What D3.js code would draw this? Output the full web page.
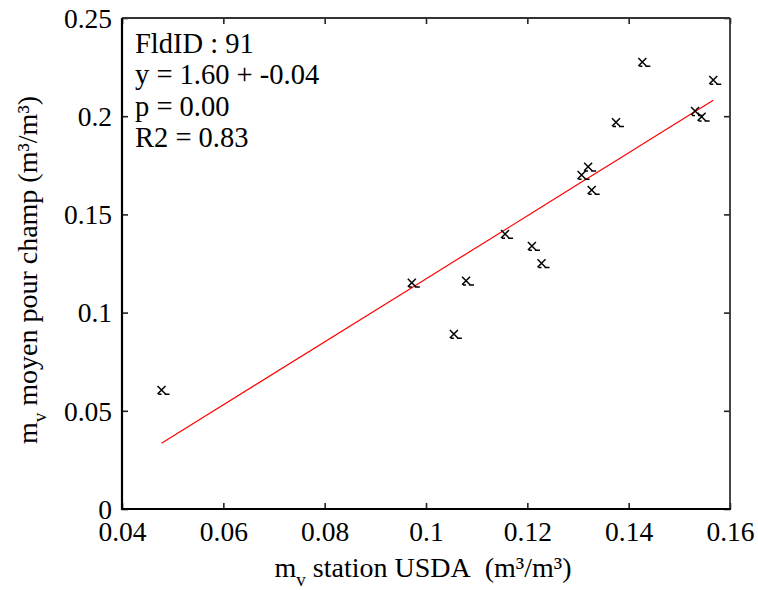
<!DOCTYPE html>
<html>
<head>
<meta charset="utf-8">
<script src="https://cdn.jsdelivr.net/npm/d3@7"></script>
<style>
  html, body { margin: 0; padding: 0; background: #fff; }
</style>
</head>
<body>
<svg id="chart" width="758" height="590"></svg>
<script>
// Field-averaged soil moisture vs USDA station soil moisture
const stationMv = [0.0478, 0.0972, 0.1055, 0.1079, 0.1156, 0.1209, 0.1228, 0.1307,
                   0.1320, 0.1327, 0.1375, 0.1427, 0.1531, 0.1544, 0.1567];
const fieldMv   = [0.0606, 0.1152, 0.0891, 0.1162, 0.1400, 0.1339, 0.1251, 0.1701,
                   0.1743, 0.1624, 0.1969, 0.2276, 0.2026, 0.1997, 0.2184];
const xTicks = [0.04, 0.06, 0.08, 0.1, 0.12, 0.14, 0.16];
const yTicks = [0, 0.05, 0.1, 0.15, 0.2, 0.25];
const fieldId = 91;
const slope = 1.604, intercept = -0.0432, pValue = 0.00, r2 = 0.83;

const FONT = "'Liberation Serif', 'Times New Roman', serif";
const svg = d3.select("#chart");
const plotL = 122, plotR = 730, plotT = 18, plotB = 509;

const x = d3.scaleLinear().domain([0.04, 0.16]).range([plotL, plotR]);
const y = d3.scaleLinear().domain([0, 0.25]).range([plotB, plotT]);

const fmt = d => String(+d.toFixed(2));

// Box axes with inward ticks on all four sides
const tickLen = 6;
const axisColor = "#222";
svg.append("g").attr("transform", `translate(0,${plotB})`)
  .call(d3.axisBottom(x).tickValues(xTicks).tickSize(-tickLen).tickPadding(11).tickFormat(fmt))
  .call(g => { g.select(".domain").remove(); g.selectAll("text").attr("dy", "0.76em"); });
svg.append("g").attr("transform", `translate(0,${plotT})`)
  .call(d3.axisTop(x).tickValues(xTicks).tickSize(-tickLen).tickFormat(""))
  .call(g => g.select(".domain").remove());
svg.append("g").attr("transform", `translate(${plotL},0)`)
  .call(d3.axisLeft(y).tickValues(yTicks).tickSize(-tickLen).tickPadding(10).tickFormat(fmt))
  .call(g => { g.select(".domain").remove(); g.selectAll("text").attr("dy", "0.34em"); });
svg.append("g").attr("transform", `translate(${plotR},0)`)
  .call(d3.axisRight(y).tickValues(yTicks).tickSize(-tickLen).tickFormat(""))
  .call(g => g.select(".domain").remove());
svg.selectAll(".tick line").attr("stroke", axisColor).attr("stroke-width", 1.6);
svg.selectAll(".tick text").attr("font-family", FONT).attr("font-size", 27.5).attr("fill", "#000");

// Frame
svg.append("line").attr("x1", plotL).attr("x2", plotR).attr("y1", plotT).attr("y2", plotT)
  .attr("stroke", "#333").attr("stroke-width", 1.8);
svg.append("line").attr("x1", plotR).attr("x2", plotR).attr("y1", plotT).attr("y2", plotB)
  .attr("stroke", "#333").attr("stroke-width", 1.8);
svg.append("line").attr("x1", plotL).attr("x2", plotL).attr("y1", plotT).attr("y2", plotB + 1)
  .attr("stroke", "#000").attr("stroke-width", 2.2);
svg.append("line").attr("x1", plotL - 1).attr("x2", plotR + 1).attr("y1", plotB).attr("y2", plotB)
  .attr("stroke", "#000").attr("stroke-width", 2.2);

// Regression line evaluated at each station value
const fitPts = stationMv.map(v => [v, intercept + slope * v]).sort((a, b) => a[0] - b[0]);
svg.append("path")
  .attr("d", d3.line().x(d => x(d[0])).y(d => y(d[1]))(fitPts))
  .attr("fill", "none").attr("stroke", "#ff0000").attr("stroke-width", 1.2);

// Cross markers
const cross = "M-4,-4L4,4M4,-4L-4,4M-3,4.3L0,4.3M3,4.3L8,4.3";
svg.append("g").selectAll("path").data(stationMv).join("path")
  .attr("transform", (d, i) => `translate(${x(d)},${y(fieldMv[i])})`)
  .attr("d", cross)
  .attr("fill", "none").attr("stroke", "#000").attr("stroke-width", 1.5);

// Statistics block
const stats = [`FldID : ${fieldId}`,
               `y = ${slope.toFixed(2)} + ${intercept.toFixed(2)}`,
               `p = ${pValue.toFixed(2)}`,
               `R2 = ${r2.toFixed(2)}`];
svg.append("g").selectAll("text").data(stats).join("text")
  .attr("x", 135).attr("y", (d, i) => 53 + i * 31.3)
  .attr("font-family", FONT).attr("font-size", 28.5).attr("fill", "#000").text(d => d);

// Axis titles
const xt = svg.append("text").attr("x", 423).attr("y", 577).attr("text-anchor", "middle")
  .attr("font-family", FONT).attr("font-size", 28).attr("fill", "#000");
xt.append("tspan").text("m");
xt.append("tspan").attr("font-size", 19).attr("dy", 9).text("v");
xt.append("tspan").attr("dy", -9).text(" station USDA\u00a0 (m³/m³)");

const yt = svg.append("text").attr("transform", "translate(37,270) rotate(-90)")
  .attr("text-anchor", "middle").attr("font-family", FONT).attr("font-size", 28).attr("fill", "#000");
yt.append("tspan").text("m");
yt.append("tspan").attr("font-size", 19).attr("dy", 9).text("v");
yt.append("tspan").attr("dy", -9).text(" moyen pour champ (m³/m³)");
</script>
</body>
</html>
